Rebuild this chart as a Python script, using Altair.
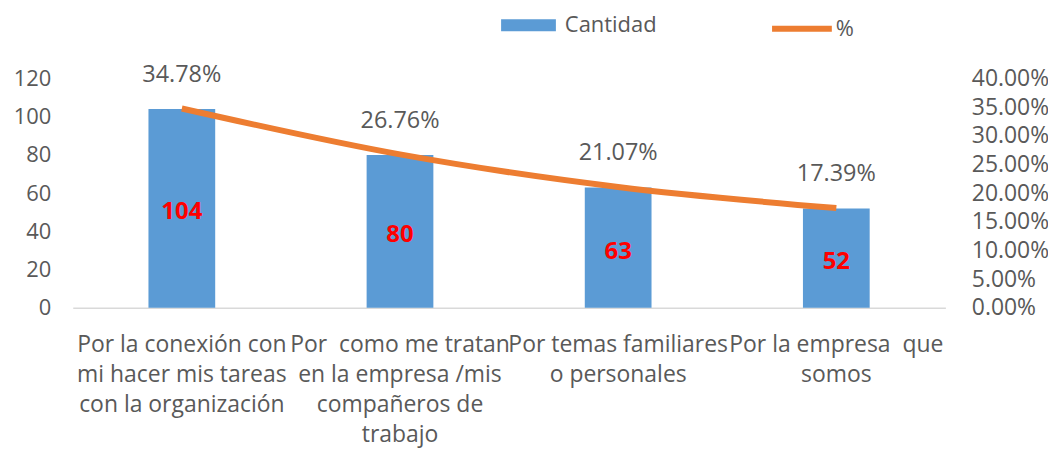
import altair as alt
import pandas as pd

categories = [
    "Por la conexión con|mi hacer mis tareas|con la organización",
    "Por \u00a0como me tratan|en la empresa /mis|compañeros de|trabajo",
    "Por temas familiares|o personales",
    "Por la empresa \u00a0que|somos",
]
cantidad = [104, 80, 63, 52]
porcentaje = [0.3478, 0.2676, 0.2107, 0.1739]
left_ticks = [0, 20, 40, 60, 80, 100, 120]
right_ticks = [0, 0.05, 0.1, 0.15, 0.2, 0.25, 0.3, 0.35, 0.4]
series_bar = "Cantidad"
series_line = "%"

df = pd.DataFrame({
    "cat": categories,
    "cantidad": cantidad,
    "pct": porcentaje,
    "s_bar": [series_bar] * len(categories),
    "s_line": [series_line] * len(categories),
})

FONT = "Open Sans"
GREY = "#595959"

x = alt.X(
    "cat:N",
    sort=categories,
    scale=alt.Scale(paddingInner=0, paddingOuter=0),
    axis=alt.Axis(
        title=None,
        labelAngle=0,
        labelExpr="split(datum.label, '|')",
        labelFontSize=23,
        labelLineHeight=30,
        labelColor=GREY,
        labelPadding=26,
        labelLimit=0,
        labelOverlap=False,
        ticks=False,
        domainColor="#D9D9D9",
        domainWidth=1.5,
        labelFont=FONT,
    ),
)

left_axis = alt.Axis(
    title=None,
    values=left_ticks,
    tickCount=len(left_ticks),
    grid=False,
    ticks=False,
    domain=False,
    labelOverlap=False,
    labelFontSize=22,
    labelColor=GREY,
    labelPadding=22,
    labelFont=FONT,
)
left_scale = alt.Scale(domain=[0, 120])

right_axis = alt.Axis(
    title=None,
    orient="right",
    format=".2%",
    values=right_ticks,
    tickCount=len(right_ticks),
    grid=False,
    ticks=False,
    domain=False,
    labelOverlap=False,
    labelFontSize=23,
    labelColor=GREY,
    labelPadding=26,
    labelFont=FONT,
)
right_scale = alt.Scale(domain=[0, 0.4])

base = alt.Chart(df)

bars = base.mark_bar(size=67).encode(
    x=x,
    y=alt.Y("cantidad:Q", scale=left_scale, axis=left_axis),
    fill=alt.Fill(
        "s_bar:N",
        scale=alt.Scale(domain=[series_bar], range=["#5B9BD5"]),
        legend=alt.Legend(
            title=None,
            orient="none",
            legendX=430,
            legendY=-81,
            padding=0,
            symbolType="M-1,-0.22L1,-0.22L1,0.22L-1,0.22Z",
            symbolSize=3025,
            symbolStrokeWidth=0,
            labelOffset=9,
            labelFontSize=22,
            labelColor=GREY,
            labelFont=FONT,
        ),
    ),
)

bar_labels = base.mark_text(
    color="#FF0000", fontWeight="bold", fontSize=24, font=FONT, baseline="middle", dy=4
).transform_calculate(mid="datum.cantidad / 2").encode(
    x=x,
    y=alt.Y("mid:Q", scale=left_scale, axis=left_axis),
    text=alt.Text("cantidad:Q"),
)

left = alt.layer(bars, bar_labels)

line = base.mark_line(strokeWidth=6, interpolate="monotone").encode(
    x=x,
    y=alt.Y("pct:Q", scale=right_scale, axis=right_axis),
    stroke=alt.Stroke(
        "s_line:N",
        scale=alt.Scale(domain=[series_line], range=["#ED7D31"]),
        legend=alt.Legend(
            title=None,
            orient="none",
            legendX=699,
            legendY=-83,
            padding=0,
            symbolType="stroke",
            symbolSize=3600,
            symbolStrokeWidth=6,
            labelOffset=1,
            labelFontSize=22,
            labelColor=GREY,
            labelFont=FONT,
        ),
    ),
)

pct_labels = base.mark_text(
    color=GREY, fontSize=23.5, font=FONT, baseline="middle", dy=-34
).encode(
    x=x,
    y=alt.Y("pct:Q", scale=right_scale, axis=right_axis),
    text=alt.Text("pct:Q", format=".2%"),
)

right = alt.layer(line, pct_labels)

chart = (
    alt.layer(left, right)
    .resolve_scale(y="independent", fill="independent", stroke="independent")
    .properties(
        width=876,
        height=230,
        autosize=alt.AutoSizeParams(type="none"),
        padding={"left": 65, "top": 70, "right": 103, "bottom": 140},
        background="white",
    )
    .configure_view(stroke=None)
    .configure_axis(labelFont=FONT, labelOverlap=False)
    .configure_text(font=FONT)
)

chart.save("out.html", embed_options={"renderer": "svg", "actions": False})
